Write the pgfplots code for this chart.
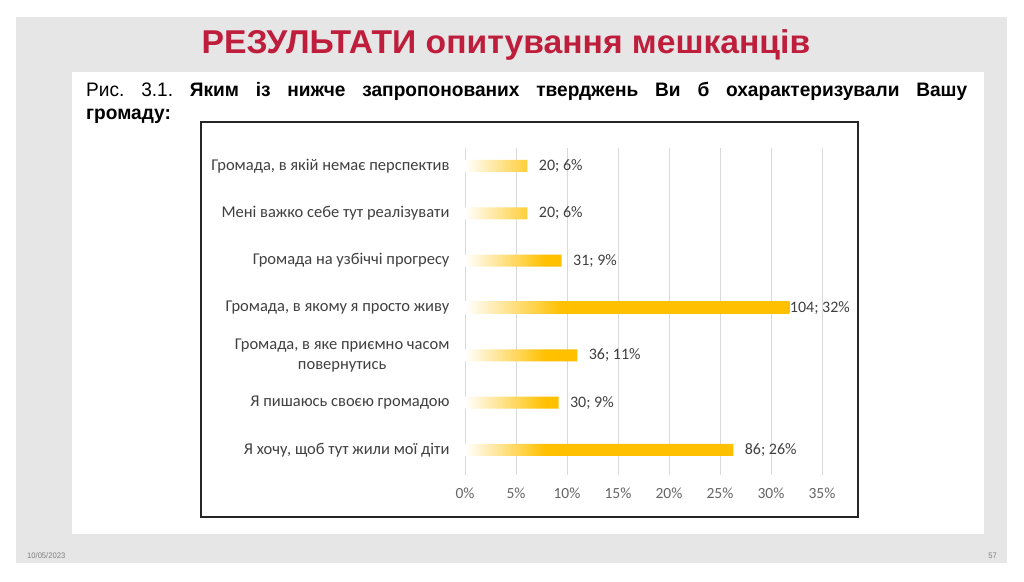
\documentclass[border=0pt]{standalone}
\usepackage{pgfplots}
\pgfplotsset{compat=1.18}
\usepackage{pgfplotstable}
\usepackage{fontspec}
\setmainfont{Carlito}
\newfontfamily\narrow[FakeStretch=1.02]{Liberation Sans}
\newfontfamily\capfont[FakeStretch=0.98]{Liberation Sans}
\newfontfamily\foottext[FakeStretch=0.95]{Liberation Sans}
\definecolor{slidegray}{HTML}{E7E6E6}
\definecolor{titlered}{HTML}{BE1E3C}
\definecolor{gold}{HTML}{FFC000}
\definecolor{gridgray}{HTML}{D9D9D9}
\definecolor{lbl}{HTML}{404040}
\definecolor{foot}{HTML}{7F7F7F}
\protected\def\semi{;}
\pgfdeclarehorizontalshading{barshade}{100bp}{color(0bp)=(white); color(25bp)=(white); color(40bp)=(gold); color(100bp)=(gold)}
\pgfplotstableread{
y x lab
0 6.116 {20\semi{} 6\%}
1 6.116 {20\semi{} 6\%}
2 9.480 {31\semi{} 9\%}
4 11.009 {36\semi{} 11\%}
5 9.174 {30\semi{} 9\%}
6 26.300 {86\semi{} 26\%}
}\data
\pgfplotstableread{
y x lab
3 31.804 {104\semi{} 32\%}
}\datalong
\begin{document}
\frenchspacing
\begin{tikzpicture}[x=1pt,y=1pt]
\path[use as bounding box] (0,0) rectangle (1024,-581);
\fill[white] (0,0) rectangle (1024,-581);
\fill[slidegray] (16,-17) rectangle (1007,-563);
\fill[white] (72,-72) rectangle (984,-534);
\node[text=titlered, font=\narrow\bfseries\fontsize{33}{36}\selectfont] at (506,-44.5) {РЕЗУЛЬТАТИ опитування мешканців};
\node[anchor=north west, inner sep=0pt, text width=881pt, align=justify, text=black, font=\capfont\fontsize{19.5}{23}\selectfont] at (86,-82)
  {Рис. 3.1. \textbf{Яким із нижче запропонованих тверджень Ви б охарактеризували Вашу\linebreak громаду:}};
\node[anchor=west, text=foot, font=\foottext\fontsize{8}{9}\selectfont, inner sep=0pt] at (27,-556) {10/05/2023};
\node[anchor=east, text=foot, font=\foottext\fontsize{8}{9}\selectfont, inner sep=0pt] at (997,-556) {57};
\draw[line width=2pt, black!85] (201,-122) rectangle (858,-517);
\begin{axis}[
  at={(465pt,-475pt)}, anchor=south west,
  scale only axis, width=357pt, height=327pt,
  xmin=0, xmax=35, ymin=-0.38, ymax=6.53, y dir=reverse,
  axis line style={draw=none},
  xmajorgrids, grid style={gridgray, line width=0.8pt},
  xtick={0,5,...,35},
  xticklabel={\pgfmathprintnumber{\tick}\%},
  ytick={0,...,6},
  yticklabels={{Громада, в якій немає перспектив},{Мені важко себе тут реалізувати},{Громада на узбіччі прогресу},{Громада, в якому я просто живу},{Громада, в яке приємно часом\\повернутись},{Я пишаюсь своєю громадою},{Я хочу, щоб тут жили мої діти}},
  major tick length=0pt, tick style={draw=none},
  xticklabel style={font=\fontsize{15.5}{16}\selectfont, text=foot!80!black, yshift=-9pt},
  yticklabel style={font=\fontsize{16.5}{20.5}\selectfont, text=lbl, align=center, xshift=-12pt},
  /pgf/number format/assume math mode=true,
  every axis plot/.append style={xbar, bar width=12pt, bar shift=0pt, draw=none, shade, shading=barshade,
    point meta=explicit symbolic, nodes near coords},
]
\addplot[nodes near coords style={anchor=west, xshift=8pt, text=lbl, font=\fontsize{16}{17}\selectfont}]
  table[x=x, y=y, meta=lab]{\data};
\addplot[nodes near coords style={anchor=west, xshift=-3pt, text=lbl, font=\fontsize{16}{17}\selectfont}]
  table[x=x, y=y, meta=lab]{\datalong};
\end{axis}
\end{tikzpicture}
\end{document}
